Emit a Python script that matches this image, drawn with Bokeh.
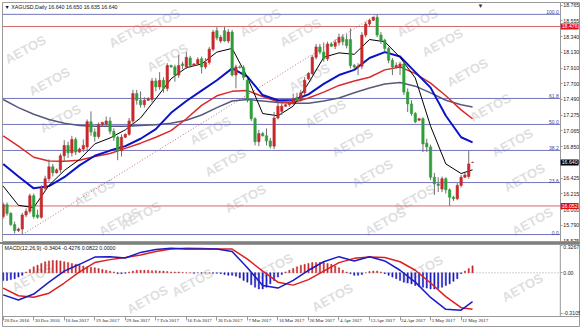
from bokeh.plotting import figure
from bokeh.models import Range1d, FixedTicker, NumeralTickFormatter, Label, Div
from bokeh.layouts import column
from bokeh.embed import file_html
from bokeh.resources import INLINE

# ---------------- data ----------------
date_idx = [0, 8, 16, 24, 32, 40, 48, 56, 64, 72, 80, 88, 96, 104, 112, 120]
date_lbl = ["20 Dec 2016", "30 Dec 2016", "10 Jan 2017", "19 Jan 2017", "29 Jan 2017",
            "7 Feb 2017", "16 Feb 2017", "26 Feb 2017", "7 Mar 2017", "16 Mar 2017",
            "26 Mar 2017", "4 Apr 2017", "13 Apr 2017", "24 Apr 2017", "3 May 2017", "12 May 2017"]

open_ = [15.91, 16.07, 15.95, 15.80, 15.72, 15.74, 15.93, 15.98, 16.19, 15.93,
         15.90, 16.29, 16.42, 16.58, 16.50, 16.54, 16.73, 16.87, 16.77, 16.95,
         16.78, 16.82, 16.85, 17.19, 17.05, 16.99, 17.15, 17.16, 17.20, 17.06,
         16.98, 16.80, 16.98, 17.02, 17.20, 17.57, 17.48, 17.42, 17.48, 17.49,
         17.74, 17.66, 17.75, 17.64, 17.95, 17.93, 17.82, 17.97, 17.93, 18.05,
         17.95, 17.97, 18.04, 17.93, 17.99, 18.17, 18.42, 18.28, 18.42, 18.28,
         18.40, 17.82, 17.93, 17.92, 17.75, 17.48, 17.23, 16.92, 17.03, 17.00,
         16.93, 16.86, 17.24, 17.33, 17.40, 17.42, 17.44, 17.52, 17.48, 17.58,
         17.77, 17.84, 18.06, 18.20, 18.13, 18.04, 18.24, 18.21, 18.26, 18.33,
         18.30, 18.30, 17.95, 17.93, 17.94, 18.36, 18.51, 18.56, 18.60, 18.36,
         18.29, 18.18, 18.02, 17.93, 17.92, 17.97, 17.59, 17.43, 17.30, 17.21,
         17.23, 16.90, 16.85, 16.44, 16.35, 16.28, 16.42, 16.27, 16.17, 16.15,
         16.33, 16.44, 16.45, 16.640]
high_ = [16.10, 16.10, 15.97, 15.84, 15.76, 15.96, 16.02, 16.22, 16.22, 16.00,
         16.33, 16.46, 16.68, 16.62, 16.56, 16.76, 16.94, 16.92, 17.00, 16.98,
         16.84, 16.95, 17.22, 17.33, 17.10, 17.18, 17.19, 17.26, 17.25, 17.10,
         17.00, 17.02, 17.03, 17.24, 17.62, 17.62, 17.60, 17.52, 17.52, 17.78,
         17.78, 17.86, 17.79, 17.98, 17.96, 17.96, 18.09, 18.00, 18.13, 18.08,
         17.98, 18.06, 18.07, 18.05, 18.20, 18.43, 18.47, 18.36, 18.47, 18.44,
         18.43, 17.96, 17.95, 17.95, 17.78, 17.50, 17.25, 17.08, 17.05, 17.10,
         16.97, 17.32, 17.46, 17.45, 17.43, 17.48, 17.57, 17.58, 17.62, 17.79,
         17.86, 18.09, 18.24, 18.24, 18.26, 18.27, 18.26, 18.30, 18.38, 18.37,
         18.37, 18.45, 17.97, 17.98, 18.40, 18.54, 18.58, 18.61, 18.64, 18.40,
         18.31, 18.20, 18.05, 17.99, 18.00, 18.00, 17.64, 17.48, 17.32, 17.24,
         17.25, 16.96, 16.88, 16.50, 16.44, 16.45, 16.44, 16.29, 16.19, 16.36,
         16.47, 16.50, 16.80, 16.650]
low_ = [15.88, 15.92, 15.78, 15.68, 15.70, 15.666, 15.90, 15.95, 15.88, 15.88,
        15.88, 16.25, 16.38, 16.45, 16.49, 16.50, 16.66, 16.70, 16.72, 16.74,
        16.77, 16.78, 16.80, 17.00, 16.92, 16.96, 17.13, 17.12, 17.02, 16.93,
        16.67, 16.72, 16.97, 17.00, 17.12, 17.42, 17.38, 17.38, 17.47, 17.45,
        17.60, 17.62, 17.58, 17.60, 17.92, 17.73, 17.78, 17.90, 17.90, 17.92,
        17.94, 17.95, 17.84, 17.90, 17.96, 18.14, 18.29, 18.25, 18.27, 18.25,
        17.80, 17.64, 17.91, 17.75, 17.45, 17.20, 16.87, 16.86, 16.99, 16.87,
        16.83, 16.82, 17.22, 17.28, 17.39, 17.39, 17.41, 17.46, 17.46, 17.55,
        17.75, 17.82, 18.03, 18.10, 18.00, 18.01, 18.20, 18.17, 18.22, 18.22,
        18.18, 17.91, 17.90, 17.82, 17.90, 18.33, 18.48, 18.55, 18.33, 18.24,
        18.14, 17.98, 17.82, 17.91, 17.82, 17.55, 17.32, 17.27, 17.17, 17.20,
        16.78, 16.78, 16.40, 16.20, 16.24, 16.24, 16.22, 16.052, 16.12, 16.13,
        16.30, 16.43, 16.42, 16.635]
close_ = [16.07, 15.95, 15.80, 15.72, 15.74, 15.93, 15.98, 16.19, 15.91, 15.90,
          16.29, 16.42, 16.58, 16.50, 16.54, 16.73, 16.87, 16.77, 16.95, 16.78,
          16.82, 16.87, 17.19, 17.05, 16.99, 17.15, 17.18, 17.20, 17.06, 16.98,
          16.80, 16.98, 17.02, 17.20, 17.57, 17.48, 17.42, 17.48, 17.50, 17.74,
          17.66, 17.75, 17.64, 17.95, 17.93, 17.82, 17.95, 17.95, 18.06, 17.95,
          17.97, 18.03, 17.93, 17.99, 18.17, 18.40, 18.32, 18.33, 18.28, 18.40,
          17.82, 17.93, 17.92, 17.79, 17.48, 17.23, 16.92, 17.03, 17.00, 16.93,
          16.86, 17.24, 17.40, 17.40, 17.42, 17.44, 17.50, 17.48, 17.58, 17.75,
          17.84, 18.06, 18.20, 18.13, 18.04, 18.24, 18.21, 18.26, 18.33, 18.27,
          18.22, 17.95, 17.93, 17.94, 18.36, 18.51, 18.56, 18.60, 18.36, 18.28,
          18.18, 18.02, 17.93, 17.95, 17.97, 17.59, 17.43, 17.30, 17.19, 17.23,
          16.89, 16.85, 16.44, 16.35, 16.33, 16.42, 16.27, 16.17, 16.15, 16.33,
          16.44, 16.47, 16.62, 16.640]

# moving averages at every 4th bar
ma_idx = [0, 4, 8, 12, 16, 20, 24, 28, 32, 36, 40, 44, 48, 52, 56, 60, 64, 68, 72, 76,
          80, 84, 88, 92, 96, 100, 104, 108, 112, 116, 120, 123]
ma_fast = [16.32, 16.06, 16.03, 16.33, 16.53, 16.68, 16.89, 16.97, 17.08, 17.24, 17.50, 17.77,
           17.92, 17.97, 18.13, 18.18, 17.79, 17.30, 17.27, 17.40, 17.71, 18.06, 18.12, 18.10,
           18.30, 18.27, 18.06, 17.78, 17.13, 16.62, 16.49, 16.54]
ma_mid = [16.62, 16.45, 16.29, 16.32, 16.44, 16.60, 16.73, 16.80, 16.86, 16.96, 17.09, 17.31,
          17.47, 17.61, 17.75, 17.91, 17.80, 17.55, 17.48, 17.48, 17.56, 17.70, 17.82, 17.89,
          18.05, 18.13, 18.07, 17.86, 17.65, 17.27, 16.98, 16.91]
ma_slow = [17.00, 16.86, 16.71, 16.66, 16.655, 16.67, 16.72, 16.76, 16.83, 16.90, 16.98, 17.07,
           17.23, 17.41, 17.54, 17.60, 17.61, 17.53, 17.46, 17.45, 17.51, 17.59, 17.68, 17.74,
           17.79, 17.89, 17.93, 17.84, 17.71, 17.54, 17.35, 17.23]
ma_long = [17.49, 17.38, 17.29, 17.22, 17.17, 17.14, 17.13, 17.13, 17.13, 17.14, 17.15, 17.17,
           17.21, 17.28, 17.38, 17.47, 17.49, 17.47, 17.45, 17.44, 17.44, 17.47, 17.51, 17.58,
           17.645, 17.70, 17.72, 17.67, 17.58, 17.48, 17.42, 17.39]

macd_line = [-0.26, -0.32, -0.25, -0.11, 0.02, 0.10, 0.185, 0.19, 0.175, 0.24, 0.275, 0.29,
             0.28, 0.28, 0.28, 0.25, 0.06, -0.15, -0.18, -0.09, 0.03, 0.13, 0.19, 0.14,
             0.19, 0.14, 0.03, -0.11, -0.29, -0.43, -0.44, -0.34]
macd_signal = [-0.18, -0.27, -0.287, -0.24, -0.12, 0.01, 0.12, 0.155, 0.18, 0.21, 0.25, 0.28,
               0.29, 0.285, 0.28, 0.28, 0.16, 0.02, -0.11, -0.145, -0.08, 0.02, 0.12, 0.17,
               0.185, 0.18, 0.13, 0.03, -0.12, -0.28, -0.41, -0.428]
macd_hist = [-0.09, -0.09, -0.08, -0.07, -0.05, -0.03, 0.01, 0.04, 0.07, 0.09,
             0.11, 0.13, 0.14, 0.145, 0.145, 0.14, 0.13, 0.12, 0.11, 0.10,
             0.09, 0.08, 0.07, 0.065, 0.06, 0.05, 0.04, 0.03, 0.02, 0.01,
             -0.01, -0.01, -0.005, 0.01, 0.02, 0.03, 0.03, 0.03, 0.03, 0.025,
             0.025, 0.02, 0.02, 0.015, 0.01, 0.01, 0.01, 0.005, 0.0, 0.0,
             -0.005, 0.0, -0.005, 0.0, 0.0, -0.005, -0.005, -0.01, -0.02, -0.03,
             -0.03, -0.04, -0.06, -0.09, -0.11, -0.14, -0.17, -0.19, -0.19, -0.17,
             -0.13, -0.09, -0.05, -0.02, 0.01, 0.03, 0.05, 0.07, 0.09, 0.10,
             0.11, 0.12, 0.12, 0.125, 0.12, 0.11, 0.10, 0.08, 0.06, 0.03,
             0.01, -0.01, -0.03, -0.03, -0.02, 0.0, 0.015, 0.02, 0.02, 0.01,
             -0.01, -0.03, -0.05, -0.07, -0.09, -0.11, -0.12, -0.13, -0.15, -0.16,
             -0.17, -0.18, -0.19, -0.19, -0.185, -0.17, -0.15, -0.13, -0.10, -0.07,
             -0.01, 0.02, 0.05, 0.082]

price_ticks = [18.765, 18.555, 18.340, 18.130, 17.910, 17.700, 17.490, 17.275, 17.065,
               16.850, 16.640, 16.425, 16.215, 16.000, 15.790, 15.575]
fib_levels = [0.0, 23.6, 38.2, 50.0, 61.8, 100.0]
fib_low, fib_high = 15.666, 18.640
fib_low_idx, fib_high_idx = 5, 98
res_levels = [18.476, 16.052]
last_price = 16.640
macd_ticks = [0.3267, 0.0, -0.475]
macd_tick_text = ["0.3267", "0.00", "-0.3105"]
title_main = "\u25bc XAGUSD,Daily  16.640 16.650 16.635 16.640"
title_macd = "MACD(12,26,9) -0.3404 -0.4276 0.0822 0.0000"
watermark = "AETOS"
# watermark anchor points in pixels of each panel (x from left, y from panel bottom)
wm_main_x = [23, 47, 58, 92, 117, 127, 157, 165, 208, 223, 243, 138, 258, 298, 307, 323,
             350, 370, 383, 415, 440, 465, 488, 510, 522, 530, 412]
wm_main_y = [192, 160, 123, 49, 20, 208, 219, 184, 111, 79, 43, 26, 219, 209, 164, 128,
             99, 68, 20, 219, 199, 169, 134, 99, 64, 20, 43]
wm_macd_x = [30, 145, 190, 270, 330, 420, 520]
wm_macd_y = [50, 28, 45, 60, 30, 58, 40]

# ---------------- styling ----------------
FONT = "Liberation Sans"
UP = "#c8282a"
DOWN = "#2f9e3a"
WICK = "#707070"
FIB = "#7474bc"
RES = "#d46a6a"
AXC = "#9a9a9a"
TXT = "#222222"

n = len(close_)
idx = list(range(n))
x_lo, x_end, x_hi = -0.18, 146.0, 151.29
x_rng = Range1d(x_lo, x_hi)


def style_axis(ax, size="5.2px"):
    ax.major_label_text_font = FONT
    ax.major_label_text_font_size = size
    ax.major_label_text_color = TXT
    ax.major_tick_in = 0
    ax.minor_tick_out = 0
    ax.minor_tick_in = 0
    ax.axis_line_color = AXC
    ax.major_tick_line_color = AXC


def add_watermarks(p, xs, ys):
    for wx, wy in zip(xs, ys):
        p.add_layout(Label(x=wx, y=wy, x_units="screen", y_units="screen", text=watermark,
                           angle=0.5, text_align="center", text_baseline="middle",
                           text_font=FONT, text_font_size="13px", text_font_style="bold",
                           text_color="#d9d9d9", text_alpha=0.85, level="underlay"))


# ---------------- price panel ----------------
p1 = figure(width=580, height=242, x_range=x_rng, y_range=Range1d(15.572, 18.800),
            output_backend="svg", toolbar_location=None, x_axis_location=None,
            y_axis_location="right", min_border_left=2, min_border_right=0,
            min_border_top=2, min_border_bottom=1)
p1.grid.visible = False
p1.outline_line_color = AXC
p1.background_fill_color = "white"
p1.border_fill_color = "white"

ya = p1.yaxis[0]
ya.fixed_location = x_end
ya.ticker = FixedTicker(ticks=price_ticks)
ya.formatter = NumeralTickFormatter(format="0.000")
style_axis(ya)
ya.major_tick_out = 2
ya.major_label_standoff = 1

add_watermarks(p1, wm_main_x, wm_main_y)

fib_prices = [fib_low + (fib_high - fib_low) * lv / 100.0 for lv in fib_levels]
p1.segment(x0=[x_lo] * len(fib_prices), y0=fib_prices, x1=[x_end] * len(fib_prices),
           y1=fib_prices, line_color=FIB, line_width=1)
for lv, price in zip(fib_levels, fib_prices):
    p1.add_layout(Label(x=x_end - 0.4, y=price, text="%.1f" % lv, text_align="right",
                        text_baseline="bottom", text_font=FONT, text_font_size="5px",
                        text_color="#3c3c9c"))
p1.segment(x0=[x_lo] * 2, y0=res_levels, x1=[x_end] * 2, y1=res_levels,
           line_color=RES, line_width=1)
p1.line([fib_low_idx, fib_high_idx], [fib_low, fib_high], line_color="#c07070",
        line_dash="1 2", line_width=1)

# moving averages
p1.line(ma_idx, ma_long, line_color="#58587c", line_width=1.5)
p1.line(ma_idx, ma_slow, line_color="#dc2a2a", line_width=1.5)
p1.line(ma_idx, ma_mid, line_color="#0a14c4", line_width=2)
p1.line(ma_idx, ma_fast, line_color="#000000", line_width=1)

# candles
body_top = [max(o, c) for o, c in zip(open_, close_)]
body_bot = [min(o, c) for o, c in zip(open_, close_)]
body_col = [UP if c >= o else DOWN for o, c in zip(open_, close_)]
p1.segment(x0=idx, y0=low_, x1=idx, y1=high_, line_color=WICK, line_width=1)
p1.vbar(x=idx, top=body_top, bottom=body_bot, width=0.62, fill_color=body_col,
        line_color=body_col, line_width=0.6)


def tag(y, text, bg):
    p1.add_layout(Label(x=x_end + 0.1, y=y, text=text, text_align="left",
                        text_baseline="middle", text_font=FONT, text_font_size="5.2px",
                        text_color="white", background_fill_color=bg, padding=1))


tag(res_levels[0], "%.3f" % res_levels[0], "#e01010")
tag(res_levels[1], "%.3f" % res_levels[1], "#e01010")
tag(last_price, "%.3f" % last_price, "#000000")

p1.add_layout(Label(x=2, y=235, x_units="screen", y_units="screen", text=title_main,
                    text_baseline="middle", text_font=FONT, text_font_size="5.3px",
                    text_color="#111111"))
# chart-shift marker at the top edge
p1.add_layout(Label(x=478, y=236, x_units="screen", y_units="screen", text="\u25bc",
                    text_align="center", text_baseline="middle", text_font=FONT,
                    text_font_size="6px", text_color="#333333"))

sep = Div(width=580, height=2, margin=0, styles={"background-color": "#808080"})

# ---------------- MACD panel ----------------
macd_bottom = -0.514
p2 = figure(width=580, height=83, x_range=x_rng, y_range=Range1d(-0.6435, 0.333),
            output_backend="svg", toolbar_location=None, y_axis_location="right",
            min_border_left=2, min_border_right=0, min_border_top=0, min_border_bottom=0)
p2.grid.visible = False
p2.outline_line_color = AXC
p2.background_fill_color = "white"
p2.border_fill_color = "white"

add_watermarks(p2, wm_macd_x, wm_macd_y)

p2.segment(x0=[x_lo], y0=[0], x1=[x_end], y1=[0], line_color="#a0a0a0", line_dash="1 2")
hist_col = [UP if h >= 0 else "#1c1cc0" for h in macd_hist]
p2.vbar(x=idx, top=macd_hist, bottom=0, width=0.32, fill_color=hist_col, line_color=hist_col,
        line_width=0.5)
p2.line(ma_idx, macd_signal, line_color="#dc2020", line_width=1.5)
p2.line(ma_idx, macd_line, line_color="#1a1ac8", line_width=1.5)

y2 = p2.yaxis[0]
y2.fixed_location = x_end
y2.ticker = FixedTicker(ticks=macd_ticks)
y2.major_label_overrides = {t: s for t, s in zip(macd_ticks, macd_tick_text)}
style_axis(y2)
y2.axis_line_color = None
y2.major_tick_out = 2
y2.major_label_standoff = 1
p2.segment(x0=[x_end], y0=[macd_bottom], x1=[x_end], y1=[0.333], line_color=AXC)

x2 = p2.xaxis[0]
x2.fixed_location = macd_bottom
x2.ticker = FixedTicker(ticks=date_idx)
x2.major_label_overrides = {i: "" for i in date_idx}
style_axis(x2)
x2.major_tick_out = 4
x2.major_label_standoff = 0
p2.text(x=date_idx, y=[-0.564] * len(date_idx), text=date_lbl, text_align="left",
        text_baseline="middle", text_font=FONT, text_font_size="4.9px", text_color=TXT,
        x_offset=1)

p2.add_layout(Label(x=2, y=80, x_units="screen", y_units="screen", text=title_macd,
                    text_baseline="middle", text_font=FONT, text_font_size="5.3px",
                    text_color="#111111"))

layout = column(p1, sep, p2, spacing=0)
open("out.html", "w").write(file_html(layout, INLINE))
